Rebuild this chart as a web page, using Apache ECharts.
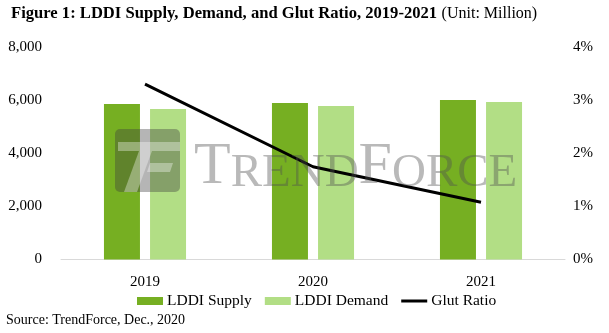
<!DOCTYPE html>
<html>
<head>
<meta charset="utf-8">
<script src="https://cdn.jsdelivr.net/npm/echarts@6/dist/echarts.min.js"></script>
<style>
  html, body { margin: 0; padding: 0; background: #ffffff; }
  #chart { width: 609px; height: 333px; }
</style>
</head>
<body>
<div id="chart"></div>
<script>
// LDDI supply / demand (million units) and glut ratio (%), 2019-2021
const years = ['2019', '2020', '2021'];
const supply = [5870, 5905, 6020];
const demand = [5680, 5790, 5945];
const glutRatio = [3.31, 1.75, 1.08];
const leftTicks = [0, 2000, 4000, 6000, 8000];
const rightTicks = [0, 1, 2, 3, 4];

const SERIF = '"Liberation Serif", "Times New Roman", serif';
const GREEN = '#76AF22';
const LIGHT_GREEN = '#B2DE85';

const chart = echarts.init(document.getElementById('chart'), null, { renderer: 'canvas' });

chart.setOption({
  animation: false,
  backgroundColor: '#ffffff',
  textStyle: { fontFamily: SERIF },
  title: {
    left: 6,
    top: 0,
    text: '{b|Figure 1: LDDI Supply, Demand, and Glut Ratio, 2019-2021} {n|(Unit: Million)}',
    textStyle: {
      rich: {
        b: { fontFamily: SERIF, fontWeight: 'bold', fontSize: 16.6, color: '#000' },
        n: { fontFamily: SERIF, fontWeight: 'normal', fontSize: 16, color: '#000' }
      }
    }
  },
  grid: { left: 61, right: 44, top: 47.5, bottom: 73.5 },
  legend: {
    bottom: 19,
    left: 132,
    itemWidth: 26,
    itemHeight: 8,
    itemGap: 13,
    textStyle: { fontFamily: SERIF, fontSize: 15.5, color: '#000', padding: [0, 0, 0, -1] },
    data: [
      { name: 'LDDI Supply', icon: 'rect' },
      { name: 'LDDI Demand', icon: 'rect' },
      { name: 'Glut Ratio', icon: 'path://M0,0 L26,0 L26,3 L0,3 Z' }
    ]
  },
  xAxis: {
    type: 'category',
    data: years,
    axisLine: { lineStyle: { color: '#D9D9D9', width: 1 } },
    axisTick: { show: false },
    axisLabel: { fontFamily: SERIF, fontSize: 15, color: '#000', margin: 15 }
  },
  yAxis: [
    {
      type: 'value',
      min: leftTicks[0],
      max: leftTicks[leftTicks.length - 1],
      interval: leftTicks[1] - leftTicks[0],
      splitLine: { show: false },
      axisLine: { show: false },
      axisTick: { show: false },
      axisLabel: {
        fontFamily: SERIF, fontSize: 15, color: '#000', margin: 19,
        formatter: v => v.toLocaleString('en-US')
      }
    },
    {
      type: 'value',
      min: rightTicks[0],
      max: rightTicks[rightTicks.length - 1],
      interval: rightTicks[1] - rightTicks[0],
      splitLine: { show: false },
      axisLine: { show: false },
      axisTick: { show: false },
      axisLabel: {
        fontFamily: SERIF, fontSize: 15, color: '#000', margin: 8,
        formatter: '{value}%'
      }
    }
  ],
  graphic: [
    // TrendForce watermark: logo tile
    {
      type: 'rect', z: 100, silent: true,
      shape: { x: 115, y: 129, width: 65, height: 63, r: 5 },
      style: { fill: 'rgba(60,60,60,0.38)' }
    },
    {
      type: 'polygon', z: 101, silent: true,
      shape: { points: [[118, 142], [180, 142], [180, 151], [118, 151]] },
      style: { fill: 'rgba(255,255,255,0.35)' }
    },
    {
      type: 'polygon', z: 101, silent: true,
      shape: { points: [[139, 151], [152, 151], [137, 192], [124, 192]] },
      style: { fill: 'rgba(255,255,255,0.35)' }
    },
    {
      type: 'polygon', z: 101, silent: true,
      shape: { points: [[150, 163], [173, 163], [170, 172], [147, 172]] },
      style: { fill: 'rgba(255,255,255,0.35)' }
    },
    {
      type: 'text', z: 100, silent: true,
      left: 194, top: 137,
      style: {
        text: '{c|T}{s|REND}{c|F}{s|ORCE}',
        rich: {
          c: { fontFamily: SERIF, fontSize: 60, fill: 'rgba(80,80,80,0.40)', verticalAlign: 'bottom' },
          s: { fontFamily: SERIF, fontSize: 47, fill: 'rgba(80,80,80,0.40)', verticalAlign: 'bottom' }
        }
      }
    },
    {
      type: 'text', left: 6, top: 313, silent: true,
      style: { text: 'Source: TrendForce, Dec., 2020', fontFamily: SERIF, fontSize: 14, fill: '#000' }
    }
  ],
  series: [
    {
      name: 'LDDI Supply', type: 'bar', data: supply,
      barWidth: 36, barGap: '28%',
      itemStyle: { color: GREEN }
    },
    {
      name: 'LDDI Demand', type: 'bar', data: demand,
      barWidth: 36, barGap: '28%',
      itemStyle: { color: LIGHT_GREEN }
    },
    {
      name: 'Glut Ratio', type: 'line', yAxisIndex: 1, data: glutRatio,
      symbol: 'none', z: 10,
      lineStyle: { color: '#000', width: 3 },
      itemStyle: { color: '#000' }
    }
  ]
});
</script>
</body>
</html>
